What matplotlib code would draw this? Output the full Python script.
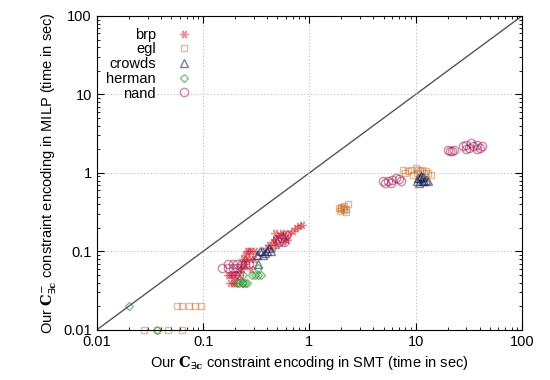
import matplotlib.pyplot as plt
import numpy as np

plt.rcParams['font.family'] = ['Liberation Sans', 'DejaVu Sans']
plt.rcParams['mathtext.fontset'] = 'dejavuserif'

# timings (sec): x = SMT encoding, y = MILP encoding
brp_x = [0.18, 0.19, 0.20, 0.17, 0.18, 0.19, 0.20, 0.22, 0.22, 0.23, 0.24, 0.25,
         0.26, 0.24, 0.25, 0.27, 0.28, 0.28, 0.28, 0.30, 0.31, 0.26, 0.42, 0.45,
         0.47, 0.50, 0.52, 0.48, 0.55, 0.58, 0.60, 0.62, 0.56, 0.50, 0.65, 0.70,
         0.75, 0.80, 0.85, 0.45, 0.40]
brp_y = [0.04, 0.04, 0.04, 0.05, 0.05, 0.05, 0.05, 0.05, 0.06, 0.06, 0.07, 0.07,
         0.08, 0.08, 0.09, 0.10, 0.06, 0.08, 0.10, 0.08, 0.10, 0.10, 0.12, 0.13,
         0.14, 0.15, 0.16, 0.17, 0.17, 0.16, 0.15, 0.14, 0.13, 0.12, 0.17, 0.18,
         0.20, 0.21, 0.22, 0.11, 0.11]

egl_x = [0.028, 0.047, 0.064, 0.037, 0.057, 0.064, 0.073, 0.084, 0.095,
         1.9, 2.0, 2.1, 2.2, 2.0, 2.1, 2.3, 1.95, 2.2, 2.05,
         7.6, 8.5, 9.0, 10.0, 10.5, 11.0, 12.0, 13.0, 14.0, 9.5, 10.2, 11.5, 8.0, 12.5]
egl_y = [0.01, 0.01, 0.01, 0.01, 0.02, 0.02, 0.02, 0.02, 0.02,
         0.36, 0.35, 0.34, 0.35, 0.37, 0.38, 0.40, 0.33, 0.32, 0.36,
         1.1, 1.05, 1.1, 1.15, 1.1, 1.05, 1.0, 1.0, 0.95, 0.95, 1.0, 1.1, 1.0, 1.05]

crowds_x = [10.3, 10.8, 11.0, 11.5, 12.0, 12.5, 11.2, 10.5, 11.8, 13.0,
            0.32, 0.34, 0.36, 0.38, 0.40, 0.42, 0.44, 0.33, 0.37]
crowds_y = [0.80, 0.75, 0.85, 0.80, 0.78, 0.82, 0.90, 0.85, 0.88, 0.80,
            0.09, 0.10, 0.10, 0.095, 0.10, 0.11, 0.10, 0.07, 0.09]

herman_x = [0.02, 0.037, 0.21, 0.22, 0.23, 0.24, 0.25, 0.26, 0.24, 0.29, 0.31,
            0.33, 0.35, 0.33]
herman_y = [0.02, 0.01, 0.04, 0.04, 0.04, 0.04, 0.04, 0.04, 0.05, 0.05, 0.05,
            0.05, 0.05, 0.062]

nand_x = [28, 30, 32, 35, 38, 40, 42, 33, 30, 38, 20, 21, 22, 23,
          4.9, 5.2, 5.5, 6.0, 6.5, 7.0, 7.3, 5.8,
          0.15, 0.17, 0.19, 0.21, 0.17, 0.19, 0.21, 0.23, 0.25, 0.27, 0.20, 0.22,
          0.50, 0.55, 0.60, 0.52, 0.58]
nand_y = [2.2, 2.3, 2.1, 2.2, 2.3, 2.1, 2.2, 2.4, 2.0, 2.0, 1.95, 1.9, 1.9, 1.95,
          0.80, 0.75, 0.80, 0.82, 0.85, 0.83, 0.80, 0.75,
          0.062, 0.062, 0.062, 0.062, 0.07, 0.07, 0.07, 0.07, 0.07, 0.07, 0.05, 0.05,
          0.14, 0.15, 0.16, 0.13, 0.13]

fig = plt.figure(figsize=(5.5, 3.8), dpi=100)
ax = fig.add_axes([0.176, 0.132, 0.773, 0.826])

ax.plot([0.01, 100], [0.01, 100], color='#555555', lw=1, zorder=1)

ms = 6
ax.plot(brp_x, brp_y, ls='none', marker=(6, 2, 90), ms=ms, mew=1, color='#c81e2a',
        alpha=0.5, label='brp', clip_on=False)
ax.plot(egl_x, egl_y, ls='none', marker='s', ms=ms - 1, mew=1, mfc='none',
        color='#c46a28', alpha=0.45, label='egl', clip_on=False)
ax.plot(crowds_x, crowds_y, ls='none', marker='^', ms=ms, mew=1, mfc='none',
        color='#0e1a4e', alpha=0.55, label='crowds', clip_on=False)
ax.plot(herman_x, herman_y, ls='none', marker='D', ms=ms - 1.5, mew=1, mfc='none',
        color='#1d8a1d', alpha=0.55, label='herman', clip_on=False)
ax.plot(nand_x, nand_y, ls='none', marker='o', ms=ms, mew=1, mfc='none',
        color='#a01858', alpha=0.5, label='nand', clip_on=False)

ax.set_xscale('log')
ax.set_yscale('log')
ax.set_xlim(0.01, 100)
ax.set_ylim(0.01, 100)
ticks = [0.01, 0.1, 1, 10, 100]
ax.set_xticks(ticks)
ax.set_xticklabels(['0.01', '0.1', '1', '10', '100'])
ax.set_yticks(ticks)
ax.set_yticklabels(['0.01', '0.1', '1', '10', '100'])
ax.tick_params(which='both', direction='in', top=True, right=True, labelsize=10.5)
ax.tick_params(which='major', length=5)
ax.tick_params(which='minor', length=2.5)
ax.grid(True, which='major', color='#bbbbbb', ls=(0, (1, 2)), lw=0.8)

ax.set_xlabel(r'Our $\mathbf{C}_{\exists\mathbf{c}}$ constraint encoding in SMT (time in sec)',
              fontsize=10.5)
ax.set_ylabel(r'Our $\mathbf{C}^{-}_{\exists\mathbf{c}}$ constraint encoding in MILP (time in sec)',
              fontsize=10.5)

leg = ax.legend(loc='upper left', bbox_to_anchor=(-0.005, 1.0), frameon=False,
                markerfirst=False, fontsize=10.5, handlelength=1.5,
                handletextpad=1.2, labelspacing=0.05, borderaxespad=0.4)

fig.savefig('out.png', dpi=100)
